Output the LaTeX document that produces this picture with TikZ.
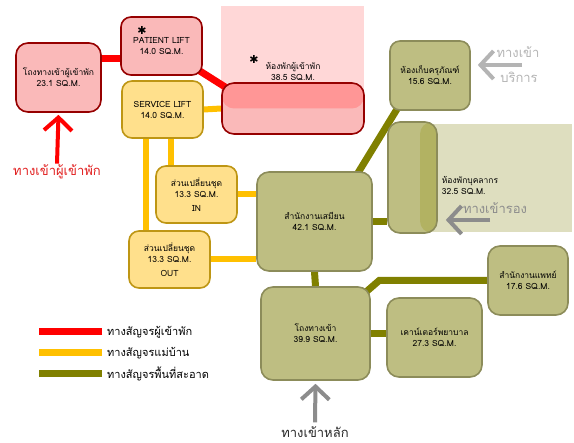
\documentclass[tikz,border=0pt]{standalone}
\usepackage{fontspec}
\setmainfont{Loma}[Script=Thai]
\newfontfamily\symfont{DejaVu Sans}
\usetikzlibrary{arrows.meta}
\usetikzlibrary{positioning}
\usetikzlibrary{calc}

\definecolor{cRed}{RGB}{255,0,0}
\definecolor{cGuestTxt}{RGB}{225,30,30}
\definecolor{cGuestFill}{RGB}{250,185,185}
\definecolor{cGuestLine}{RGB}{150,0,0}
\definecolor{cGuestTop}{RGB}{255,150,150}
\definecolor{cGuestBg}{RGB}{255,215,215}
\definecolor{cMaid}{RGB}{255,192,0}
\definecolor{cMaidFill}{RGB}{255,224,140}
\definecolor{cMaidLine}{RGB}{190,150,20}
\definecolor{cClean}{RGB}{128,128,0}
\definecolor{cCleanFill}{RGB}{190,190,130}
\definecolor{cCleanLine}{RGB}{140,140,90}
\definecolor{cCleanDark}{RGB}{178,178,98}
\definecolor{cCleanBg}{RGB}{222,222,191}
\definecolor{cGray}{RGB}{140,140,140}
\definecolor{cLightGray}{RGB}{180,180,180}

\pgfdeclarelayer{bg}
\pgfdeclarelayer{edges}
\pgfsetlayers{bg,edges,main}

\tikzset{
  room/.style={draw, line width=1.6pt, rounded corners=10pt, align=center,
    font=\fontsize{8.5}{11}\selectfont, inner sep=0pt},
  guestbox/.style={room, fill=cGuestFill, draw=cGuestLine},
  maidbox/.style={room, fill=cMaidFill, draw=cMaidLine},
  cleanbox/.style={room, fill=cCleanFill, draw=cCleanLine},
  guestpath/.style={line width=7pt, draw=cRed},
  maidpath/.style={line width=6pt, draw=cMaid},
  cleanpath/.style={line width=7pt, draw=cClean},
  entry/.style={line width=4pt, -{Straight Barb[length=13pt,width=28pt]}},
  entrytxt/.style={font=\fontsize{13}{15}\selectfont, inner sep=1pt},
  legendtxt/.style={font=\fontsize{11}{13}\selectfont, inner sep=0pt},
  star/.style={font=\symfont\fontsize{11}{11}\selectfont, inner sep=0pt},
}

\begin{document}
\begin{tikzpicture}[x=1pt, y=-1pt]

 \useasboundingbox (0,0) rectangle (574,443);

 %backgrounds
 \begin{pgfonlayer}{bg}
   \fill[cGuestBg] (221,6) rectangle (364,100);
   \fill[cCleanBg] (400,124) rectangle (572,232);
 \end{pgfonlayer}

 %guest rooms
 \node[guestbox, minimum width=85pt, minimum height=69pt, rounded corners=12pt] (globby) at (58.5,77.5) {โถงทางเข้าผู้เข้าพัก\\23.1 SQ.M.};
 \node[guestbox, minimum width=81pt, minimum height=58pt] (plift) at (161.5,46) {PATIENT LIFT\\14.0 SQ.M.};
 \node[guestbox, minimum width=142pt, minimum height=51pt, rounded corners=12pt,
   path picture={\fill[cGuestTop] (path picture bounding box.north west) rectangle (path picture bounding box.east);}] (groom) at (293,108.5) {};
 \node[room, draw=none, fill=none] (groomtxt) at (293,71) {ห้องพักผู้เข้าพัก\\38.5 SQ.M.};
 \node[star] (pstar) at (142,30) {✱};
 \node[star] (gstar) at (254,59) {✱};

 %maid rooms
 \node[maidbox, minimum width=81pt, minimum height=57pt] (slift) at (162.5,109.5) {SERVICE LIFT\\14.0 SQ.M.};
 \node[maidbox, minimum width=81pt, minimum height=57pt] (inbox) at (196.5,194.5) {ส่วนเปลี่ยนชุด\\13.3 SQ.M.\\[3pt]IN};
 \node[maidbox, minimum width=81pt, minimum height=57pt] (outbox) at (169.5,259.5) {ส่วนเปลี่ยนชุด\\13.3 SQ.M.\\[3pt]OUT};

 %clean rooms
 \node[cleanbox, minimum width=115pt, minimum height=99pt, rounded corners=12pt] (office) at (314.5,221.5) {สำนักงานเสมียน\\42.1 SQ.M.};
 \node[cleanbox, minimum width=80pt, minimum height=69pt] (store) at (430,75.5) {ห้องเก็บครุภัณฑ์\\15.6 SQ.M.};
 \node[cleanbox, minimum width=49pt, minimum height=111pt, rounded corners=12pt,
   path picture={\fill[cCleanDark] ([xshift=-17pt]path picture bounding box.north east) rectangle (path picture bounding box.south east);}] (staff) at (412.5,177.5) {};
 \node[room, draw=none, fill=none, align=left, anchor=west] (stafftxt) at (441,185) {ห้องพักบุคลากร\\32.5 SQ.M.};
 \node[cleanbox, minimum width=109pt, minimum height=93pt, rounded corners=12pt] (lobby) at (315.5,333.5) {โถงทางเข้า\\39.9 SQ.M.};
 \node[cleanbox, minimum width=95pt, minimum height=79pt, rounded corners=12pt] (nurse) at (434.5,337.5) {เคาน์เตอร์พยาบาล\\27.3 SQ.M.};
 \node[cleanbox, minimum width=80pt, minimum height=69pt, rounded corners=12pt] (doctor) at (528,280.5) {สำนักงานแพทย์\\17.6 SQ.M.};

 %paths
 \begin{pgfonlayer}{edges}
   \draw[guestpath] ([yshift=-13pt]plift.west) -- ([yshift=-13pt]plift.west -| globby.east);
   \draw[guestpath] ($(plift.south east)+(-8,-8)$) -- ($(groom.north west)+(9,8)$);

   \draw[maidpath] (slift.east) -- (groom.west);
   \coordinate (sl1) at ([xshift=25pt]slift.south west);
   \draw[maidpath] (sl1) -- (sl1 |- outbox.north);
   \coordinate (sl2) at ([xshift=16pt]inbox.north west);
   \draw[maidpath] (sl2) -- (sl2 |- slift.south);
   \draw[maidpath] (inbox.east) -- (inbox.east -| office.west);
   \draw[maidpath] (outbox.east) -- (outbox.east -| office.west);

   \draw[cleanpath] ($(office.north east)+(-15,2)$) -- ($(store.south west)+(8,-2)$);
   \draw[cleanpath] (office.east) -- (office.east -| staff.west);
   \draw[cleanpath] (office.south) -- (lobby.north);
   \draw[cleanpath] (lobby.east) -- (lobby.east -| nurse.west);
   \draw[cleanpath] (doctor.west) -- ++(-108,0) -- ($(lobby.north east)+(-12,12)$);
 \end{pgfonlayer}

 %entrances
 \node[entrytxt, text=cGuestTxt] (gin) at (57,172) {ทางเข้าผู้เข้าพัก};
 \draw[entry, draw=cRed] (gin.north) -- ([yshift=-2pt]globby.south);

 \node[entrytxt, text=black!85] (mainin) at (315,432) {ทางเข้าหลัก};
 \draw[entry, draw=cGray] ([yshift=3pt]mainin.north) -- ([yshift=-3pt]lobby.south);

 \node[entrytxt, text=cGray] (secin) at (495,208) {ทางเข้ารอง};
 \coordinate (secfoot) at (490,220);
 \draw[entry, draw=cGray] (secfoot) -- ([xshift=8pt]secfoot -| staff.east);

 \node[entrytxt, text=cLightGray] (svcin1) at (518,52) {ทางเข้า};
 \node[entrytxt, text=cLightGray] (svcin2) at (519,77) {บริการ};
 \coordinate (svcfoot) at (522,65);
 \draw[entry, draw=cLightGray] (svcfoot) -- ([xshift=7pt]svcfoot -| store.east);

 %legend
 \foreach \lcol/\ltxt [count=\k] in {cRed/ทางสัญจรผู้เข้าพัก, cMaid/ทางสัญจรแม่บ้าน, cClean/ทางสัญจรพื้นที่สะอาด} {
   \node[legendtxt, anchor=west] (leg\k) at (107,311+21*\k) {\ltxt};
   \draw[line width=7pt, draw=\lcol] ([xshift=-5pt]leg\k.west) -- ++(-63,0);
 }

\end{tikzpicture}
\end{document}
